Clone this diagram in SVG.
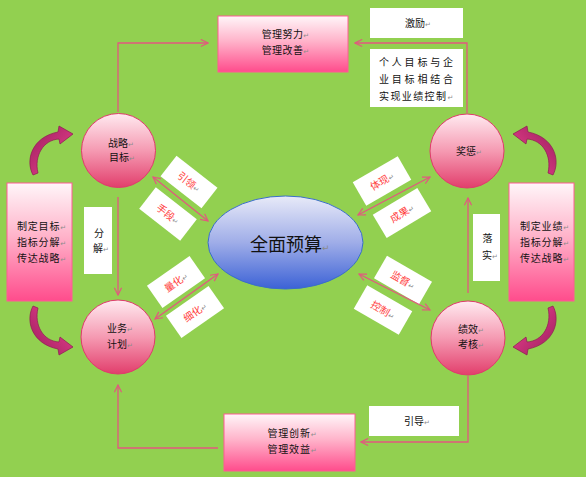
<svg xmlns="http://www.w3.org/2000/svg" width="586" height="477" viewBox="0 0 586 477">
<style>
.t{font-family:"Noto Sans CJK SC","Noto Sans CJK JP",sans-serif;font-size:10px;fill:#111}
.r{fill:#FF3C3C}
.m{font-family:"DejaVu Sans",sans-serif;font-size:7px;fill:#8c8c8c;letter-spacing:0}
.big{font-size:18px}
.mbig{font-size:9px}
.box{fill:url(#gBox);stroke:#FF5A94;stroke-width:1}
.wbox{fill:#fff}
.circ{fill:url(#gCirc);stroke:#E03A6C;stroke-width:1}
.conn{fill:none;stroke:#E2587F;stroke-width:1.3}
.curl{fill:url(#gCurl);stroke:#8E1A52;stroke-width:0.7}
</style>
<defs>
<linearGradient id="gBox" x1="0" y1="0" x2="0" y2="1">
<stop offset="0" stop-color="#FFF6F9"/><stop offset="0.45" stop-color="#FFB3CA"/><stop offset="1" stop-color="#FF4C8C"/>
</linearGradient>
<linearGradient id="gCirc" x1="0" y1="0" x2="0" y2="1">
<stop offset="0" stop-color="#FFEAF0"/><stop offset="0.5" stop-color="#F59AB2"/><stop offset="1" stop-color="#E23E6C"/>
</linearGradient>
<linearGradient id="gEll" x1="0" y1="0" x2="0" y2="1">
<stop offset="0" stop-color="#E8EAF8"/><stop offset="0.5" stop-color="#9FADE8"/><stop offset="1" stop-color="#3C62D6"/>
</linearGradient>
<linearGradient id="gCurl" x1="0" y1="0" x2="1" y2="1">
<stop offset="0" stop-color="#9A1E5C"/><stop offset="0.6" stop-color="#D0357E"/><stop offset="1" stop-color="#E65A9E"/>
</linearGradient>
<marker id="ah" viewBox="0 0 10 10" refX="9" refY="5" markerWidth="9" markerHeight="9" markerUnits="userSpaceOnUse" orient="auto-start-reverse">
<path d="M1,1 L9,5 L1,9" fill="none" stroke="#E2587F" stroke-width="1.3"/>
</marker>
<path id="curlShape" d="M33,175 C25,160 32,137 58,132 L59,126 L73,134 L60,144 L59,139 C43,140 34,156 38,173 Z"/>
</defs>

<rect width="586" height="477" fill="#92D050"/>

<g id="curls">
<use href="#curlShape" class="curl"/>
<use href="#curlShape" class="curl" transform="translate(586,0) scale(-1,1)"/>
<use href="#curlShape" class="curl" transform="translate(0,481) scale(1,-1)"/>
<use href="#curlShape" class="curl" transform="translate(586,481) scale(-1,-1)"/>
</g>

<g id="box-effort">
<rect class="box" x="218" y="16" width="130" height="56"/>
<text class="t" x="261.7" y="38" letter-spacing="0.4">管理努力<tspan class="m">↵</tspan></text>
<text class="t" x="261.7" y="54" letter-spacing="0.4">管理改善<tspan class="m">↵</tspan></text>
</g>

<g id="box-incentive">
<rect class="wbox" x="370" y="8" width="93" height="30"/>
<text class="t" x="405" y="27">激励<tspan class="m">↵</tspan></text>
</g>

<g id="box-combine">
<rect class="wbox" x="370" y="49" width="93" height="58"/>
<text class="t" x="379" y="65.5" letter-spacing="2.8">个人目标与企</text>
<text class="t" x="379" y="83" letter-spacing="2.8">业目标相结合</text>
<text class="t" x="379" y="99.5" letter-spacing="1.4">实现业绩控制<tspan class="m">↵</tspan></text>
</g>

<g id="node-strategy">
<circle class="circ" cx="118.5" cy="150.5" r="37"/>
<text class="t" x="108" y="146.5">战略<tspan class="m">↵</tspan></text>
<text class="t" x="109" y="161">目标<tspan class="m">↵</tspan></text>
</g>

<g id="node-reward">
<circle class="circ" cx="467" cy="151" r="37"/>
<text class="t" x="456" y="155">奖惩<tspan class="m">↵</tspan></text>
</g>

<g id="node-plan">
<circle class="circ" cx="118" cy="337" r="37"/>
<text class="t" x="107" y="331.5">业务<tspan class="m">↵</tspan></text>
<text class="t" x="107" y="347.5">计划<tspan class="m">↵</tspan></text>
</g>

<g id="node-perf">
<circle class="circ" cx="468" cy="338" r="37"/>
<text class="t" x="458" y="332.5">绩效<tspan class="m">↵</tspan></text>
<text class="t" x="458" y="348">考核<tspan class="m">↵</tspan></text>
</g>

<g id="node-budget">
<ellipse cx="285.5" cy="242.5" rx="77.5" ry="46.5" fill="url(#gEll)" stroke="#3A6FC8" stroke-width="1"/>
<text class="t big" x="250" y="251">全面预算<tspan class="m mbig">↵</tspan></text>
</g>

<g id="box-left">
<rect class="box" x="7" y="183" width="65" height="118"/>
<text class="t" x="17" y="230" letter-spacing="0.8">制定目标<tspan class="m">↵</tspan></text>
<text class="t" x="17" y="246" letter-spacing="0.8">指标分解<tspan class="m">↵</tspan></text>
<text class="t" x="17" y="261.5" letter-spacing="0.8">传达战略<tspan class="m">↵</tspan></text>
</g>

<g id="box-right">
<rect class="box" x="509" y="183" width="65" height="118"/>
<text class="t" x="520" y="230" letter-spacing="0.8">制定业绩<tspan class="m">↵</tspan></text>
<text class="t" x="520" y="246" letter-spacing="0.8">指标分解<tspan class="m">↵</tspan></text>
<text class="t" x="520" y="261.5" letter-spacing="0.8">传达战略<tspan class="m">↵</tspan></text>
</g>

<g id="box-decompose">
<rect class="wbox" x="84" y="207" width="28" height="67"/>
<text class="t" x="94" y="236.5">分</text>
<text class="t" x="93" y="252">解<tspan class="m">↵</tspan></text>
</g>

<g id="box-implement">
<rect class="wbox" x="473" y="214" width="27" height="67"/>
<text class="t" x="482.5" y="242">落</text>
<text class="t" x="482" y="259">实<tspan class="m">↵</tspan></text>
</g>

<g id="box-innovate">
<rect class="box" x="224" y="414" width="131" height="57"/>
<text class="t" x="267.5" y="437" letter-spacing="0.8">管理创新<tspan class="m">↵</tspan></text>
<text class="t" x="267.5" y="453" letter-spacing="0.8">管理效益<tspan class="m">↵</tspan></text>
</g>

<g id="box-guide">
<rect class="wbox" x="369" y="406" width="90" height="30"/>
<text class="t" x="404" y="424.5">引导<tspan class="m">↵</tspan></text>
</g>

<g id="label-yinling" transform="translate(189,182) rotate(38)">
<rect class="wbox" x="-26" y="-13" width="52" height="26"/>
<text class="t r" x="0" y="3.8" text-anchor="middle">引领<tspan class="m">↵</tspan></text>
</g>
<g id="label-shouduan" transform="translate(168,214) rotate(38)">
<rect class="wbox" x="-26" y="-13.5" width="52" height="27"/>
<text class="t r" x="0" y="3.8" text-anchor="middle">手段<tspan class="m">↵</tspan></text>
</g>
<g id="label-tixian" transform="translate(382,181) rotate(-30)">
<rect class="wbox" x="-26" y="-13.5" width="52" height="27"/>
<text class="t r" x="0" y="3.8" text-anchor="middle">体现<tspan class="m">↵</tspan></text>
</g>
<g id="label-chengguo" transform="translate(402,213) rotate(-31)">
<rect class="wbox" x="-26" y="-13.5" width="52" height="27"/>
<text class="t r" x="0" y="3.8" text-anchor="middle">成果<tspan class="m">↵</tspan></text>
</g>
<g id="label-lianghua" transform="translate(176,282) rotate(-35)">
<rect class="wbox" x="-26" y="-13.5" width="52" height="27"/>
<text class="t r" x="0" y="3.8" text-anchor="middle">量化<tspan class="m">↵</tspan></text>
</g>
<g id="label-xihua" transform="translate(195,312) rotate(-35)">
<rect class="wbox" x="-26" y="-13.5" width="52" height="27"/>
<text class="t r" x="0" y="3.8" text-anchor="middle">细化<tspan class="m">↵</tspan></text>
</g>
<g id="label-jiandu" transform="translate(403,280) rotate(30)">
<rect class="wbox" x="-26" y="-13" width="52" height="26"/>
<text class="t r" x="0" y="3.8" text-anchor="middle">监督<tspan class="m">↵</tspan></text>
</g>
<g id="label-kongzhi" transform="translate(383,310) rotate(30)">
<rect class="wbox" x="-26" y="-13.5" width="52" height="27"/>
<text class="t r" x="0" y="3.8" text-anchor="middle">控制<tspan class="m">↵</tspan></text>
</g>

<g id="connectors">
<path class="conn" d="M118,112 V43 H208" marker-end="url(#ah)"/>
<path class="conn" d="M467,113 V43 H355" marker-end="url(#ah)"/>
<path class="conn" d="M118,197 V295" marker-end="url(#ah)"/>
<path class="conn" d="M468,293 V198" marker-end="url(#ah)"/>
<path class="conn" d="M468,376 V442 H361" marker-end="url(#ah)"/>
<path class="conn" d="M218,448 H118 V385" marker-end="url(#ah)"/>
<path class="conn" d="M153,177 L208,221" marker-start="url(#ah)" marker-end="url(#ah)"/>
<path class="conn" d="M358,215 L430,177" marker-start="url(#ah)" marker-end="url(#ah)"/>
<path class="conn" d="M155,319 L218,274" marker-start="url(#ah)" marker-end="url(#ah)"/>
<path class="conn" d="M359,274 L430,310" marker-start="url(#ah)" marker-end="url(#ah)"/>
</g>
</svg>
